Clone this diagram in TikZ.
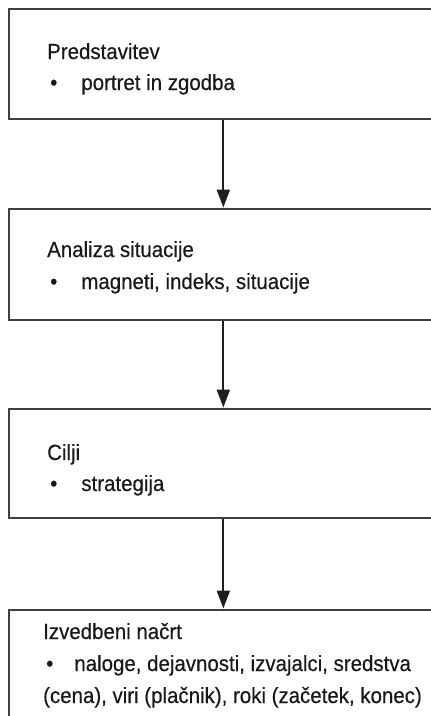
\documentclass[tikz,border=0pt]{standalone}
\usepackage{fontspec}
\setmainfont{Liberation Sans}[FakeStretch=0.93, FakeBold=0.4]
\usetikzlibrary{arrows.meta}

\tikzset{
  stage/.style={draw=black!75, line width=1.7pt, rectangle, inner sep=0pt,
                minimum width=429pt, anchor=north west},
  flow/.style={draw=black!88, line width=2.2pt,
               -{Triangle[length=18pt, width=13pt]}, shorten >=0.5pt},
  txt/.style={anchor=base west, inner sep=0pt, text=black!90,
              font=\fontsize{22}{26}\selectfont},
}

\begin{document}
\begin{tikzpicture}[x=1pt, y=-1pt]
  \useasboundingbox (0,0) rectangle (431,716);
  \clip (0,0) rectangle (431,716);

  % the four stages, stacked top to bottom
  \node[stage, minimum height=110pt] (s1) at (8,8)   {};
  \node[stage, minimum height=111pt] (s2) at (8,208) {};
  \node[stage, minimum height=109pt] (s3) at (8,408) {};
  \node[stage, minimum height=140pt] (s4) at (8,609) {};

  % texts of each stage
  \node[txt] (h1) at (47,59)  {Predstavitev};
  \node[txt] (b1) at (50,90)  {\textbullet\hspace{24pt}portret in zgodba};

  \node[txt] (h2) at (47,257) {Analiza situacije};
  \node[txt] (b2) at (50,289) {\textbullet\hspace{24pt}magneti, indeks, situacije};

  \node[txt] (h3) at (47,460) {Cilji};
  \node[txt] (b3) at (50,491) {\textbullet\hspace{24pt}strategija};

  \node[txt] (h4) at (43,639) {Izvedbeni načrt};
  \node[txt] (b4) at (46,671) {\textbullet\hspace{21pt}naloge, dejavnosti, izvajalci, sredstva};
  \node[txt] (c4) at (43,703) {(cena), viri (plačnik), roki (začetek, konec)};

  % connectors between the stages
  \draw[flow] (s1.south) -- (s2.north);
  \draw[flow] (s2.south) -- (s3.north);
  \draw[flow] (s3.south) -- (s4.north);
\end{tikzpicture}
\end{document}
